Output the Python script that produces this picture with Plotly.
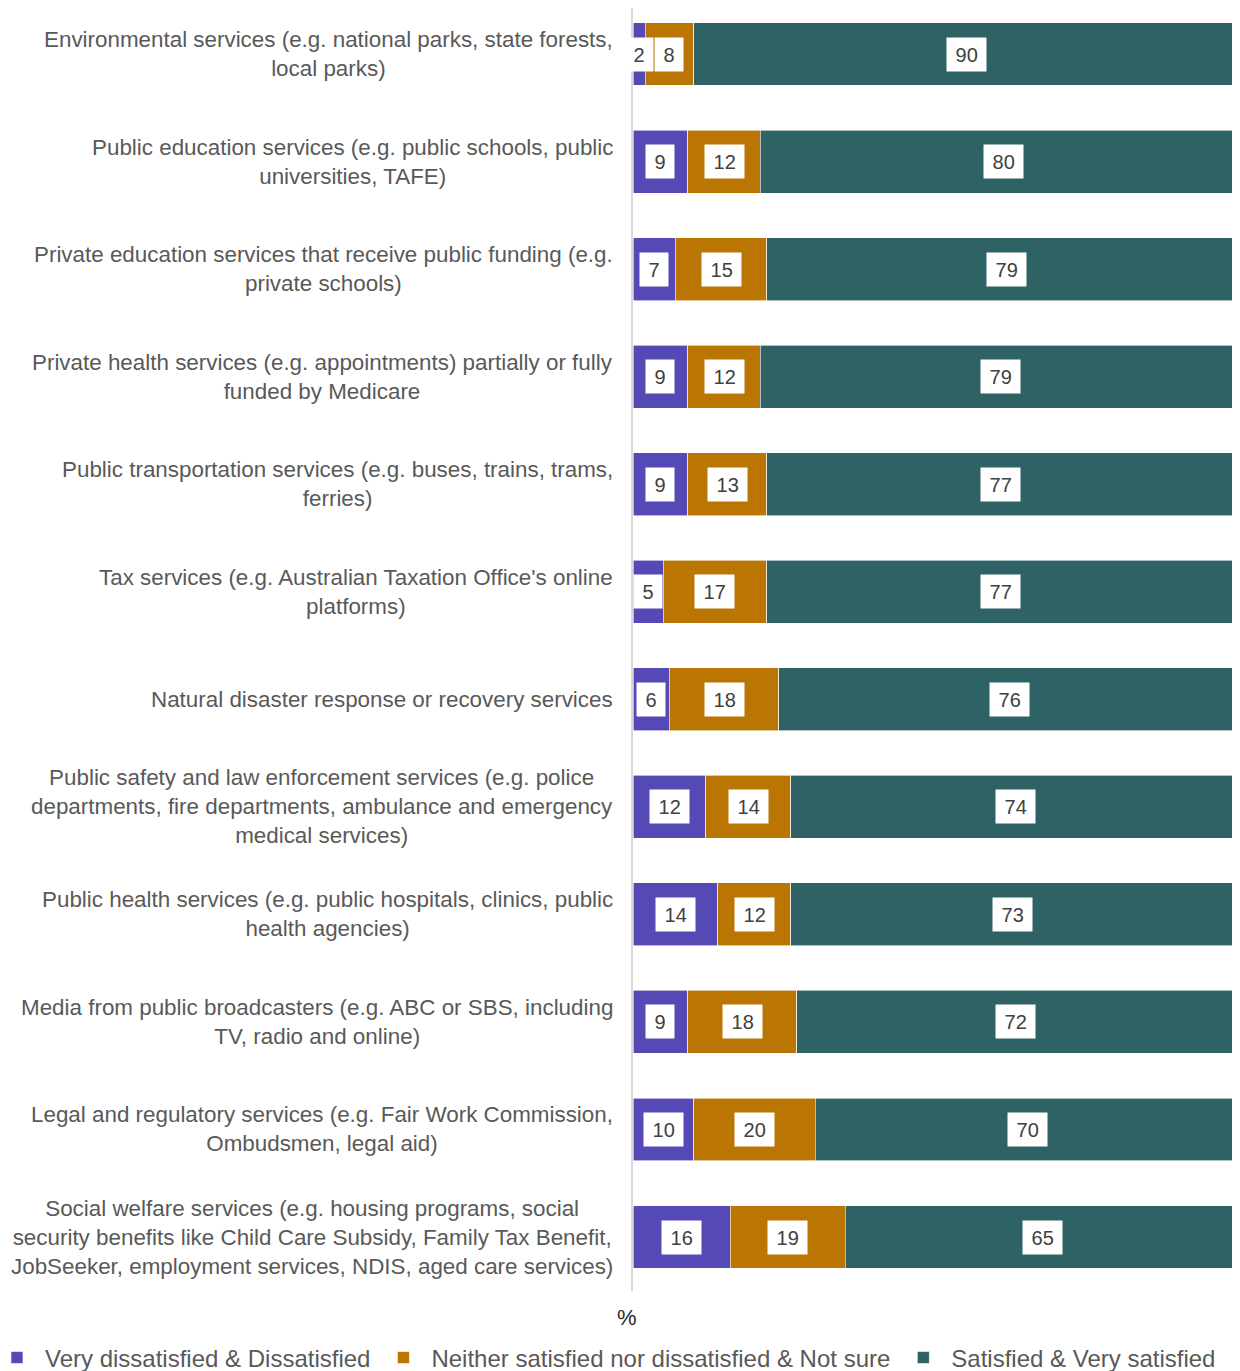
import plotly.graph_objects as go

categories = [
    "Environmental services (e.g. national parks, state forests,<br>local parks)",
    "Public education services (e.g. public schools, public<br>universities, TAFE)",
    "Private education services that receive public funding (e.g.<br>private schools)",
    "Private health services (e.g. appointments) partially or fully<br>funded by Medicare",
    "Public transportation services (e.g. buses, trains, trams,<br>ferries)",
    "Tax services (e.g. Australian Taxation Office's online<br>platforms)",
    "Natural disaster response or recovery services",
    "Public safety and law enforcement services (e.g. police<br>departments, fire departments, ambulance and emergency<br>medical services)",
    "Public health services (e.g. public hospitals, clinics, public<br>health agencies)",
    "Media from public broadcasters (e.g. ABC or SBS, including<br>TV, radio and online)",
    "Legal and regulatory services (e.g. Fair Work Commission,<br>Ombudsmen, legal aid)",
    "Social welfare services (e.g. housing programs, social<br>security benefits like Child Care Subsidy, Family Tax Benefit,<br>JobSeeker, employment services, NDIS, aged care services)",
]

series_names = [
    "Very dissatisfied & Dissatisfied",
    "Neither satisfied nor dissatisfied & Not sure",
    "Satisfied & Very satisfied",
]
dissatisfied = [2, 9, 7, 9, 9, 5, 6, 12, 14, 9, 10, 16]
neither = [8, 12, 15, 12, 13, 17, 18, 14, 12, 18, 20, 19]
satisfied = [90, 80, 79, 79, 77, 77, 76, 74, 73, 72, 70, 65]

colors = ["#5549B5", "#BA7503", "#2E6265"]
FONT = "Liberation Sans, Arial, sans-serif"

fig = go.Figure()
all_series = [dissatisfied, neither, satisfied]
for name, vals, col in zip(series_names, all_series, colors):
    fig.add_trace(go.Bar(
        y=categories, x=vals, name=name, orientation="h",
        marker=dict(color=col, line=dict(color="white", width=0.6)),
        hoverinfo="x+name",
    ))

annotations = []
# data labels at segment centres
for i, cat in enumerate(categories):
    base = 0
    for vals in all_series:
        v = vals[i]
        annotations.append(dict(
            x=base + v / 2, y=cat, xref="x", yref="y",
            text="\u00a0" + str(v) + "\u00a0", showarrow=False,
            font=dict(family=FONT, size=20, color="#404040"),
            bgcolor="white", borderpad=3, height=27,
        ))
        base += v

# category labels (centre-aligned lines, right-aligned block)
for cat in categories:
    annotations.append(dict(
        x=0, y=cat, xref="paper", yref="y", xanchor="right", yanchor="middle",
        xshift=-18, text=cat, align="center", showarrow=False,
        font=dict(family=FONT, size=22.4, color="#595959"),
    ))

annotations.append(dict(
    x=-0.01, y=-0.0203, xref="paper", yref="paper", text="%", showarrow=False,
    xanchor="center", yanchor="middle",
    font=dict(family=FONT, size=22, color="#262626"),
))

fig.update_layout(
    barmode="stack",
    bargap=0.415,
    width=1232, height=1363,
    margin=dict(l=625, r=0, t=0, b=80, autoexpand=False),
    paper_bgcolor="white", plot_bgcolor="white",
    xaxis=dict(range=[0, 100], showticklabels=False, showgrid=False,
               zeroline=False, fixedrange=True),
    yaxis=dict(range=[11.502, -0.428], showticklabels=False, showgrid=False,
               showline=True, linecolor="#D9D9D9", linewidth=2, ticks=""),
    legend=dict(orientation="h", x=-1.061, xanchor="left", y=-0.0522,
                yanchor="middle", font=dict(family=FONT, size=24, color="#595959"),
                traceorder="normal", itemwidth=46),
    annotations=annotations,
    showlegend=True,
)

fig.write_html("out.html")
